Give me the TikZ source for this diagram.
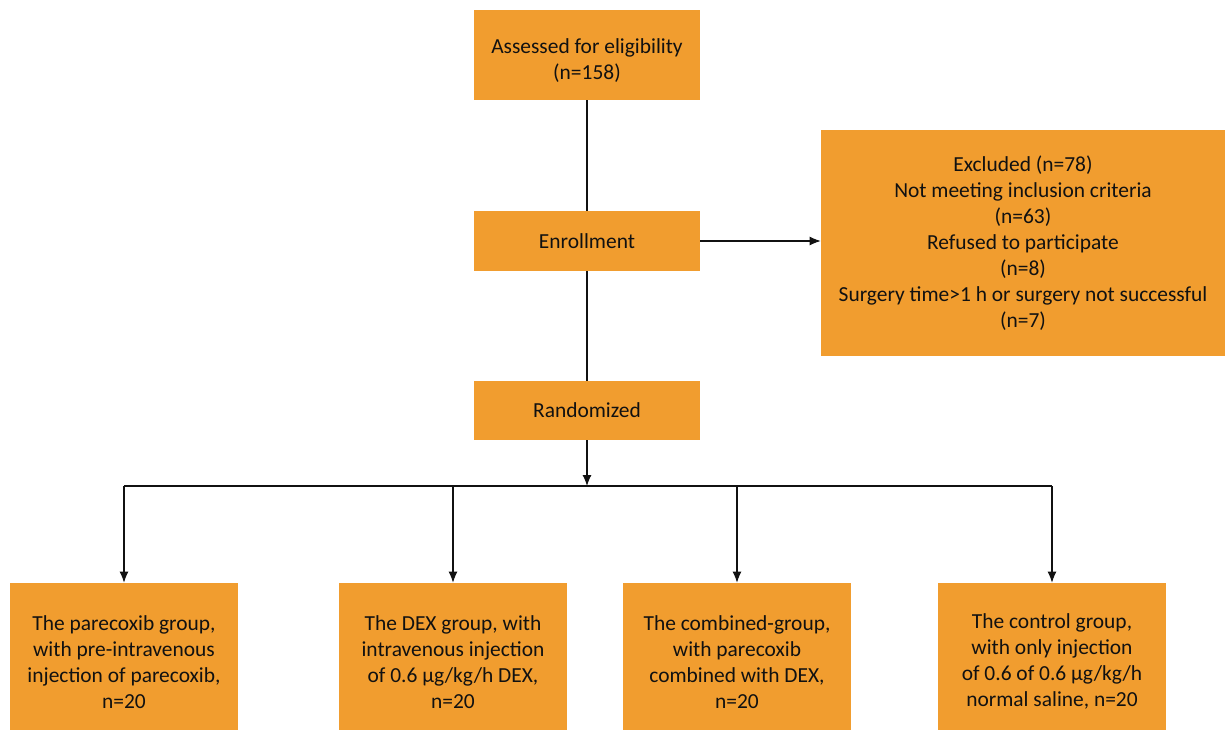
\documentclass[tikz,border=0pt]{standalone}
\usepackage{fontspec}
\setmainfont{Carlito}
\usepackage{tikz}
\usetikzlibrary{arrows.meta,positioning}
\definecolor{fcOrange}{HTML}{F19D2F}
\definecolor{fcInk}{HTML}{111111}
\newcommand{\fclift}{\rule{0pt}{14.5pt}}
\tikzset{
  fc diagram/.style={font=\fontsize{12.2}{14.8}\selectfont, text=fcInk,
    x=0.02cm, y=-0.02cm},
  fc box/.style={fill=fcOrange, draw=none, align=center, inner sep=0pt,
    minimum width=4.52cm, minimum height=1.2cm},
  fc group box/.style={fc box, minimum width=4.56cm, minimum height=2.94cm},
  fc arrow/.style={-{Latex[length=2.2mm,width=1.8mm]}, draw=fcInk, line width=0.6pt},
  fc line/.style={draw=fcInk, line width=0.6pt}
}
\begin{document}
\begin{tikzpicture}[fc diagram]
\useasboundingbox (0,0) rectangle (1225,730);
\node[fc box, minimum height=1.8cm] (assessed) at (587,55) {\fclift Assessed for eligibility\\(n=158)};
\node[fc box] (enroll) at (587,241) {Enrollment};
\node[fc box, minimum height=1.18cm] (random) at (587,410.5) {Randomized};
\node[fc box, minimum width=8.08cm, minimum height=4.52cm] (excluded) at (1023,243)
  {Excluded (n=78)\\Not meeting inclusion criteria\\(n=63)\\Refused to participate\\(n=8)\\Surgery time>1 h or surgery not successful\\(n=7)};
\node[fc group box] (parecoxib) at (124,656.5)
  {\fclift The parecoxib group,\\with pre-intravenous\\injection of parecoxib,\\n=20};
\node[fc group box] (dex) at (453,656.5)
  {\fclift The DEX group, with\\intravenous injection\\of 0.6 µg/kg/h DEX,\\n=20};
\node[fc group box] (combined) at (737,656.5)
  {\fclift The combined-group,\\with parecoxib\\combined with DEX,\\n=20};
\node[fc group box] (control) at (1052,656.5)
  {\fclift The control group,\\with only injection\\of 0.6 of 0.6 µg/kg/h\\normal saline, n=20};
\coordinate (split) at (587,486);
\draw[fc line] (assessed) -- (enroll);
\draw[fc line] (enroll) -- (random);
\draw[fc arrow] (enroll) -- (excluded.west |- enroll);
\draw[fc arrow] (random) -- (split);
\draw[fc line] (parecoxib |- split) -- (control |- split);
\foreach \grp in {parecoxib,dex,combined,control}
  \draw[fc arrow] (\grp |- split) -- (\grp.north);
\end{tikzpicture}
\end{document}
